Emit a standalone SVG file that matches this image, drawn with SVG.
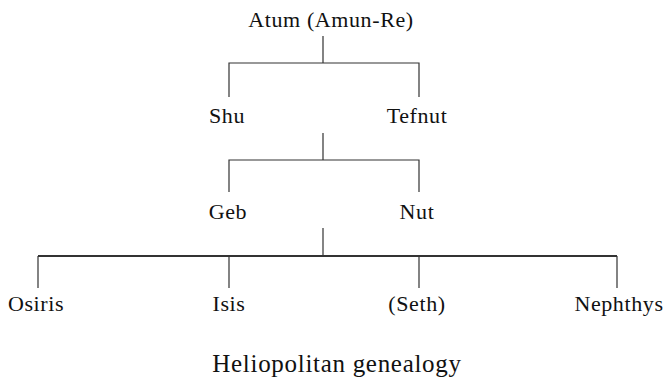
<svg xmlns="http://www.w3.org/2000/svg" width="667" height="383" viewBox="0 0 667 383">
<style>
  text { font-family: "Liberation Serif", "Times New Roman", serif; font-size: 22px; fill: #111; text-anchor: middle; letter-spacing: 0.6px; }
  .cap { font-size: 25px; letter-spacing: 0.7px; }
  .ln { stroke: #333; stroke-width: 1.2; fill: none; }
  .thick { stroke-width: 1.8; }
</style>
<rect width="667" height="383" fill="#fff"/>
<g id="connectors">
  <path class="ln" d="M323,36 V63 M229,97 V63 H419 V97"/>
  <path class="ln" d="M323,133 V160 M229,192 V160 H419 V192"/>
  <path class="ln" d="M323,228 V256"/>
  <path class="ln thick" d="M38,256 H617"/>
  <path class="ln" d="M38,256 V288 M229,256 V288 M419,256 V288 M617,256 V288"/>
</g>
<g id="atum"><text x="331" y="27">Atum (Amun-Re)</text></g>
<g id="shu"><text x="227" y="123">Shu</text></g>
<g id="tefnut"><text x="417" y="123">Tefnut</text></g>
<g id="geb"><text x="228" y="219">Geb</text></g>
<g id="nut"><text x="417" y="219">Nut</text></g>
<g id="osiris"><text x="36" y="311">Osiris</text></g>
<g id="isis"><text x="229" y="311">Isis</text></g>
<g id="seth"><text x="417" y="311">(Seth)</text></g>
<g id="nephthys"><text x="619" y="311">Nephthys</text></g>
<g id="caption"><text class="cap" x="337" y="372">Heliopolitan genealogy</text></g>
</svg>
